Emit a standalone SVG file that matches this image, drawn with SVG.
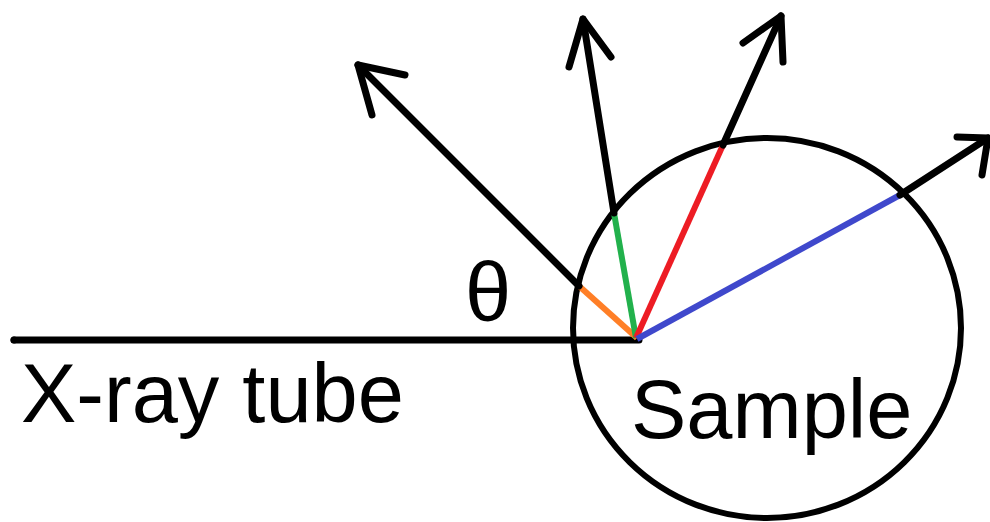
<svg xmlns="http://www.w3.org/2000/svg" width="990" height="522" viewBox="0 0 990 522">
<style>
.k{stroke:#000;stroke-width:7;fill:none;stroke-linecap:round;stroke-linejoin:round}
.c{stroke-width:6;fill:none;stroke-linecap:butt}
.t{font-family:"Liberation Sans",Arial,sans-serif;font-size:83px;fill:#000}
</style>
<rect width="990" height="522" fill="#fff"/>
<g id="sample">
<ellipse cx="767" cy="328" rx="194" ry="190" fill="none" stroke="#000" stroke-width="6"/>
<text class="t" x="631" y="438">Sample</text>
</g>
<g id="xray-tube">
<path class="k" d="M14,340 H639" stroke-linecap="butt"/>
<circle cx="14" cy="340" r="3.5" fill="#000"/>
<text class="t" x="21" y="422">X-ray tube</text>
</g>
<g id="theta">
<text class="t" x="465" y="321">θ</text>
</g>
<g id="connectors">
<line class="c" stroke="#FF7F27" x1="637" y1="338" x2="579" y2="286"/>
<line class="k" x1="579" y1="286" x2="358" y2="65"/>
<polyline class="k" points="405,75 358,65 372,115"/>
<line class="c" stroke="#22B14C" x1="636" y1="338" x2="614" y2="213"/>
<line class="k" x1="614" y1="213" x2="583" y2="19"/>
<polyline class="k" points="569,67 583,19 611,57"/>
<line class="c" stroke="#ED1C24" x1="636" y1="338" x2="723" y2="145"/>
<line class="k" x1="723" y1="145" x2="781" y2="16"/>
<polyline class="k" points="743,43 781,16 783,62"/>
<line class="c" stroke="#3F48CC" x1="637" y1="339" x2="900" y2="195"/>
<line class="k" x1="900" y1="195" x2="988" y2="138"/>
<polyline class="k" points="957,137 988,138 982,175"/>
</g>
</svg>
